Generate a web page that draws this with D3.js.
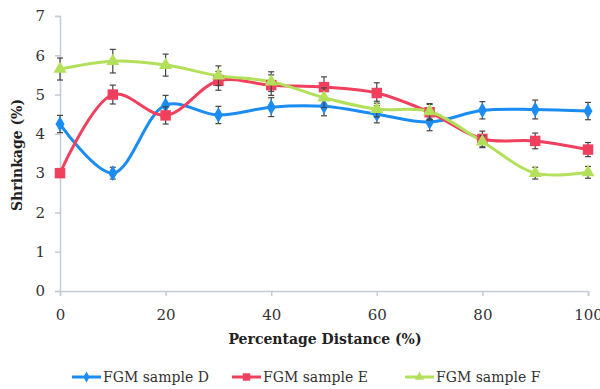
<!DOCTYPE html>
<html>
<head>
<meta charset="utf-8">
<script src="https://cdn.jsdelivr.net/npm/d3@7"></script>
<style>
  body { margin: 0; background: #fff; }
</style>
</head>
<body>
<svg id="chart"></svg>
<script>
const distances = [0, 10, 20, 30, 40, 50, 60, 70, 80, 90, 100];
const sampleD = [4.25, 3.0, 4.73, 4.48, 4.68, 4.7, 4.5, 4.3, 4.6, 4.62, 4.58];
const sampleE = [3.0, 5.0, 4.47, 5.35, 5.24, 5.19, 5.04, 4.55, 3.87, 3.82, 3.6];
const sampleF = [5.65, 5.85, 5.75, 5.48, 5.33, 4.92, 4.63, 4.57, 3.8, 3.0, 3.02];
const errD = [0.22, 0.15, 0.25, 0.22, 0.24, 0.24, 0.22, 0.22, 0.22, 0.24, 0.22];
const errE = [0.1, 0.24, 0.22, 0.24, 0.26, 0.26, 0.26, 0.2, 0.2, 0.2, 0.18];
const errF = [0.28, 0.3, 0.28, 0.25, 0.25, 0.25, 0.2, 0.2, 0.15, 0.15, 0.15];
const xTicks = [0, 20, 40, 60, 80, 100];
const yTicks = [0, 1, 2, 3, 4, 5, 6, 7];
const seriesNames = ['FGM sample D', 'FGM sample E', 'FGM sample F'];

const W = 600, H = 389;
const margin = { left: 60, right: 12, top: 16, bottom: 98 };

const svg = d3.select('#chart').attr('width', W).attr('height', H);

const x = d3.scaleLinear().domain([0, 100]).range([margin.left, W - margin.right]);
const y = d3.scaleLinear().domain([0, 7]).range([H - margin.bottom, margin.top]);

const axisColor = '#c5cad8';
const textColor = '#333';
const serif = "'DejaVu Serif', 'Liberation Serif', 'Times New Roman', serif";

// axes
const xAxis = svg.append('g').attr('transform', `translate(0,${y(0)})`)
  .call(d3.axisBottom(x).tickValues(xTicks).tickSize(5).tickPadding(13).tickFormat(d3.format('d')));
const yAxis = svg.append('g').attr('transform', `translate(${x(0)},0)`)
  .call(d3.axisLeft(y).tickValues(yTicks).tickSize(5).tickPadding(10).tickFormat(d3.format('d')));
[xAxis, yAxis].forEach(g => {
  g.attr('font-family', null).attr('font-size', null);
  g.selectAll('path, line').attr('stroke', axisColor).attr('stroke-width', 1.5);
  g.selectAll('text').attr('fill', textColor)
    .style('font-family', serif).style('font-size', '15px');
});

svg.append('text').attr('x', 325).attr('y', 344).attr('text-anchor', 'middle')
  .style('font-family', serif).style('font-size', '14px').style('font-weight', 'bold').attr('fill', '#222')
  .text('Percentage Distance (%)');

svg.append('text').attr('transform', 'translate(22,155) rotate(-90)').attr('text-anchor', 'middle')
  .style('font-family', serif).style('font-size', '14px').style('font-weight', 'bold').attr('fill', '#222')
  .text('Shrinkage (%)');

const series = [
  { name: seriesNames[0], values: sampleD, err: errD, color: '#1b8cf2', shape: d3.symbolDiamond, size: 70 },
  { name: seriesNames[1], values: sampleE, err: errE, color: '#f0405e', shape: d3.symbolSquare, size: 110 },
  { name: seriesNames[2], values: sampleF, err: errF, color: '#b3e05a', shape: d3.symbolTriangle, size: 75 }
];

const line = d3.line().x(d => x(d[0])).y(d => y(d[1])).curve(d3.curveCatmullRom.alpha(0.5));

// lines first
series.forEach(s => {
  const pts = distances.map((d, i) => [d, s.values[i]]);
  svg.append('path').datum(pts).attr('d', line)
    .attr('fill', 'none').attr('stroke', s.color).attr('stroke-width', 3);
});

// error bars + markers
series.forEach(s => {
  const g = svg.append('g');
  distances.forEach((d, i) => {
    const cx = x(d), v = s.values[i], e = s.err[i];
    const eb = g.append('g').attr('stroke', '#444').attr('stroke-width', 1.2);
    eb.append('line').attr('x1', cx).attr('x2', cx).attr('y1', y(v + e)).attr('y2', y(v - e));
    eb.append('line').attr('x1', cx - 3).attr('x2', cx + 3).attr('y1', y(v + e)).attr('y2', y(v + e));
    eb.append('line').attr('x1', cx - 3).attr('x2', cx + 3).attr('y1', y(v - e)).attr('y2', y(v - e));
    g.append('path').attr('d', d3.symbol().type(s.shape).size(s.size)())
      .attr('transform', `translate(${cx},${y(v)})`).attr('fill', s.color);
  });
});

// legend
const legendX = [72, 232, 405];
series.forEach((s, i) => {
  const lg = svg.append('g').attr('transform', `translate(${legendX[i]},377)`);
  lg.append('line').attr('x1', 0).attr('x2', 29).attr('stroke', s.color).attr('stroke-width', 3);
  lg.append('path').attr('d', d3.symbol().type(s.shape).size(s.size * 0.5)())
    .attr('transform', 'translate(14.5,0)').attr('fill', s.color);
  lg.append('text').attr('x', 31).attr('y', 5).style('font-family', serif).style('font-size', '14px')
    .attr('fill', textColor).text(s.name);
});
</script>
</body>
</html>
